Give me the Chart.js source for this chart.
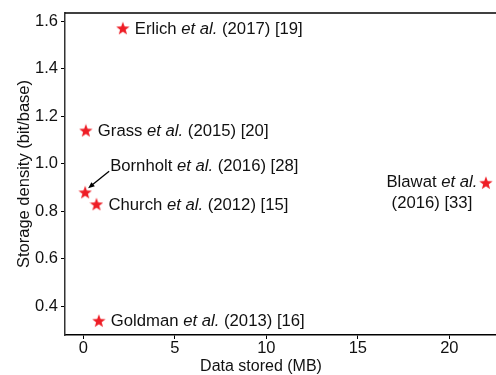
<!DOCTYPE html>
<html>
<head>
<meta charset="utf-8">
<script src="https://cdn.jsdelivr.net/npm/chart.js@4"></script>
<style>body{margin:0;background:#fff}</style>
</head>
<body>
<canvas id="chart" width="496" height="375"></canvas>
<script>
// Data
const authors = ["Church", "Goldman", "Grass", "Bornholt", "Erlich", "Blawat"];
const years = ["2012", "2013", "2015", "2016", "2017", "2016"];
const refs = ["[15]", "[16]", "[20]", "[28]", "[19]", "[33]"];
const dataStoredMB = [0.72, 0.85, 0.14, 0.1, 2.16, 22.0];
const densityBitPerBase = [0.83, 0.34, 1.14, 0.88, 1.57, 0.92];
const xTicks = [0, 5, 10, 15, 20];
const yTicks = [0.4, 0.6, 0.8, 1.0, 1.2, 1.4, 1.6];

// how each label sits next to its star
const labelMode = ["right", "right", "right", "arrow", "right", "left"];

const FONT = "Liberation Sans, Arial, sans-serif";
const FS = 16.7;
const RED = "#ee1d25";

// filled star marker
function makeStar(size) {
    const c = document.createElement("canvas");
    c.width = size; c.height = size;
    const g = c.getContext("2d");
    const cx = size / 2, cy = size / 2 + 0.6, R = size / 2, r = R * 0.42;
    g.beginPath();
    for (let i = 0; i < 10; i++) {
        const rad = i % 2 ? r : R;
        const a = -Math.PI / 2 + i * Math.PI / 5;
        g.lineTo(cx + rad * Math.cos(a), cy + rad * Math.sin(a));
    }
    g.closePath();
    g.fillStyle = RED;
    g.fill();
    return c;
}

function drawParts(ctx, parts, x, y, align) {
    let w = 0;
    parts.forEach(p => {
        ctx.font = (p.it ? "italic " : "") + FS + "px " + FONT;
        p.w = ctx.measureText(p.t).width;
        w += p.w;
    });
    let cx = align === "center" ? x - w / 2 : align === "right" ? x - w : x;
    parts.forEach(p => {
        ctx.font = (p.it ? "italic " : "") + FS + "px " + FONT;
        ctx.fillText(p.t, cx, y);
        cx += p.w;
    });
}

const labelPlugin = {
    id: "labels",
    afterDatasetsDraw(chart) {
        const ctx = chart.ctx;
        const pts = chart.getDatasetMeta(0).data;
        ctx.save();
        ctx.fillStyle = "#111";
        ctx.textBaseline = "middle";
        pts.forEach((pt, i) => {
            const full = [{ t: authors[i] + " " }, { t: "et al.", it: true }, { t: " (" + years[i] + ") " + refs[i] }];
            if (labelMode[i] === "right") {
                drawParts(ctx, full, pt.x + 12, pt.y + 1, "left");
            } else if (labelMode[i] === "arrow") {
                drawParts(ctx, full, pt.x + 25, pt.y - 26, "left");
                const x1 = pt.x + 24, y1 = pt.y - 21, x2 = pt.x + 3, y2 = pt.y - 4;
                ctx.strokeStyle = "#000";
                ctx.lineWidth = 1.3;
                ctx.beginPath(); ctx.moveTo(x1, y1); ctx.lineTo(x2 + 3, y2 - 2.5); ctx.stroke();
                const a = Math.atan2(y2 - y1, x2 - x1);
                ctx.beginPath();
                ctx.moveTo(x2, y2);
                ctx.lineTo(x2 - 7 * Math.cos(a - 0.4), y2 - 7 * Math.sin(a - 0.4));
                ctx.lineTo(x2 - 7 * Math.cos(a + 0.4), y2 - 7 * Math.sin(a + 0.4));
                ctx.closePath();
                ctx.fillStyle = "#000"; ctx.fill();
                ctx.fillStyle = "#111";
            } else {
                drawParts(ctx, [{ t: authors[i] + " " }, { t: "et al.", it: true }], pt.x - 54, pt.y, "center");
                drawParts(ctx, [{ t: "(" + years[i] + ") " + refs[i] }], pt.x - 54, pt.y + 21, "center");
            }
        });
        // top frame line
        const a = chart.chartArea;
        ctx.strokeStyle = "#000";
        ctx.lineWidth = 1.5;
        ctx.beginPath(); ctx.moveTo(a.left, a.top); ctx.lineTo(a.right, a.top); ctx.stroke();
        // x axis title (sits left of the axis centre in the original)
        ctx.font = "16px " + FONT;
        ctx.textAlign = "center";
        ctx.fillText("Data stored (MB)", 261, 367);
        ctx.restore();
    }
};

const tickFont = { family: FONT, size: 16.5 };

new Chart(document.getElementById("chart").getContext("2d"), {
    type: "scatter",
    data: {
        datasets: [{
            data: dataStoredMB.map((x, i) => ({ x: x, y: densityBitPerBase[i] })),
            pointStyle: makeStar(14),
            pointRadius: 7,
        }],
    },
    options: {
        responsive: false,
        animation: false,
        layout: { autoPadding: false, padding: { top: 13, right: 0, left: 0, bottom: 0 } },
        plugins: { legend: { display: false }, tooltip: { enabled: false } },
        scales: {
            x: {
                type: "linear",
                min: -1,
                max: 22.55,
                afterBuildTicks: (s) => { s.ticks = xTicks.map(v => ({ value: v })); },
                afterFit: (s) => { s.height = 40; },
                ticks: { font: tickFont, color: "#111", padding: 0, maxRotation: 0 },
                grid: { drawOnChartArea: false, tickLength: 4, color: "#000" },
                border: { color: "#000", width: 1.5 },
            },
            y: {
                min: 0.28,
                max: 1.634,
                afterBuildTicks: (s) => { s.ticks = yTicks.map(v => ({ value: v })); },
                afterFit: (s) => { s.width = 65; },
                ticks: { font: tickFont, color: "#111", padding: 3, callback: (v) => v.toFixed(1) },
                grid: { drawOnChartArea: false, tickLength: 4, color: "#000" },
                border: { color: "#333", width: 1.5 },
                title: { display: true, text: "Storage density (bit/base)", font: tickFont, color: "#111", padding: { top: 15, bottom: 0 } },
            },
        },
    },
    plugins: [labelPlugin],
});
</script>
</body>
</html>
